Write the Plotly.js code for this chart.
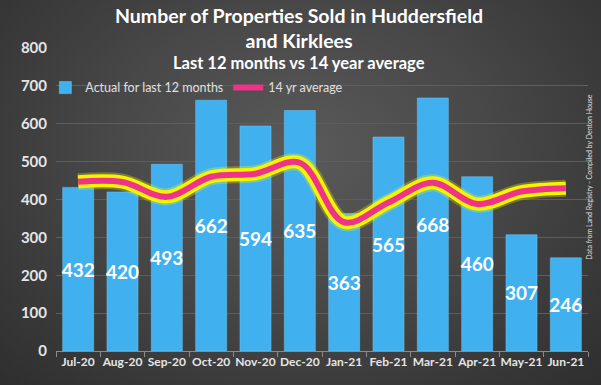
<!DOCTYPE html>
<html><head><meta charset="utf-8">
<script src="https://cdn.plot.ly/plotly-3.0.1.min.js"></script>
<style>
html,body{margin:0;padding:0;}
#chart{width:601px;height:385px;background:radial-gradient(ellipse at 50% 40%, #5a5a5a 0%, #484848 45%, #2e2e2e 100%);}
</style></head>
<body><div id="chart"></div>
<script>
const months = ["Jul-20","Aug-20","Sep-20","Oct-20","Nov-20","Dec-20","Jan-21","Feb-21","Mar-21","Apr-21","May-21","Jun-21"];
const actual = [432,420,493,662,594,635,363,565,668,460,307,246];
const avg14 = [447,446,407,460,468,497,340,392,444,388,421,430];
const yTicks = [0,100,200,300,400,500,600,700,800];

const data = [
  {type:'bar', x:months, y:actual, name:'Actual for last 12 months',
   marker:{color:'#40b0ef', line:{color:'#72caf7', width:0.5}},
   width:0.7, text:actual.map(String), textposition:'inside', insidetextanchor:'middle',
   textangle:0, constraintext:'none',
   textfont:{family:'Lato, sans-serif', size:19, color:'#ffffff', weight:'bold'},
   hoverinfo:'skip'},
  {type:'scatter', mode:'lines', x:months, y:avg14, showlegend:false,
   line:{color:'rgba(255,255,0,0.28)', width:17, shape:'spline', smoothing:1}, hoverinfo:'skip'},
  {type:'scatter', mode:'lines', x:months, y:avg14, showlegend:false,
   line:{color:'#f5f500', width:13, shape:'spline', smoothing:1}, hoverinfo:'skip'},
  {type:'scatter', mode:'lines', x:months, y:avg14, name:'14 yr average',
   line:{color:'#f0338a', width:6, shape:'spline', smoothing:1}}
];

const layout = {
  width:601, height:385,
  paper_bgcolor:'rgba(0,0,0,0)', plot_bgcolor:'rgba(0,0,0,0)',
  margin:{l:56, r:13, t:48, b:34},
  showlegend:true,
  legend:{orientation:'h', x:-0.02, xanchor:'left', y:0.868, yanchor:'middle',
    font:{family:'Lato, sans-serif', size:12.5, color:'#e0e0e0'}, bgcolor:'rgba(0,0,0,0)',
    itemwidth:30, tracegroupgap:0, traceorder:'normal'},
  xaxis:{type:'category', tickson:'boundaries', ticks:'outside', ticklen:5, tickcolor:'#8a8a8a',
    showline:true, linecolor:'#8a8a8a', linewidth:1, showgrid:false, tickangle:0,
    tickfont:{family:'Lato, sans-serif', size:12, color:'#e6e6e6', weight:'bold'}},
  yaxis:{range:[0,800], tickvals:yTicks, ticktext:yTicks.map(String), showgrid:true,
    gridcolor:'#5e5e5e', gridwidth:1, zeroline:false, showline:false,
    tickfont:{family:'Lato, sans-serif', size:15, color:'#e6e6e6', weight:'bold'}, ticklabelstandoff:8},
  annotations:[
    {text:'Number of Properties Sold in Huddersfield<br>and Kirklees', xref:'paper', yref:'paper',
     x:0.457, xanchor:'center', y:1, yanchor:'bottom', yshift:-6, showarrow:false,
     font:{family:'Lato, sans-serif', size:19.5, color:'#ffffff', weight:'bold'}},
    {text:'Last 12 months vs 14 year average', xref:'paper', yref:'paper', x:0.457, y:1.0, yanchor:'top',
     xanchor:'center', yshift:-3, showarrow:false,
     font:{family:'Lato, sans-serif', size:16.5, color:'#ffffff', weight:'bold'}},
    {text:'Data from Land Registry - Compiled by Denton House', xref:'paper', yref:'paper',
     x:1.0, xanchor:'center', xshift:1, y:0.575, yanchor:'middle', textangle:-90, showarrow:false,
     font:{family:'Lato, sans-serif', size:7, color:'#e0e0e0'}}
  ]
};
Plotly.newPlot('chart', data, layout, {displayModeBar:false, staticPlot:true});
</script></body></html>
